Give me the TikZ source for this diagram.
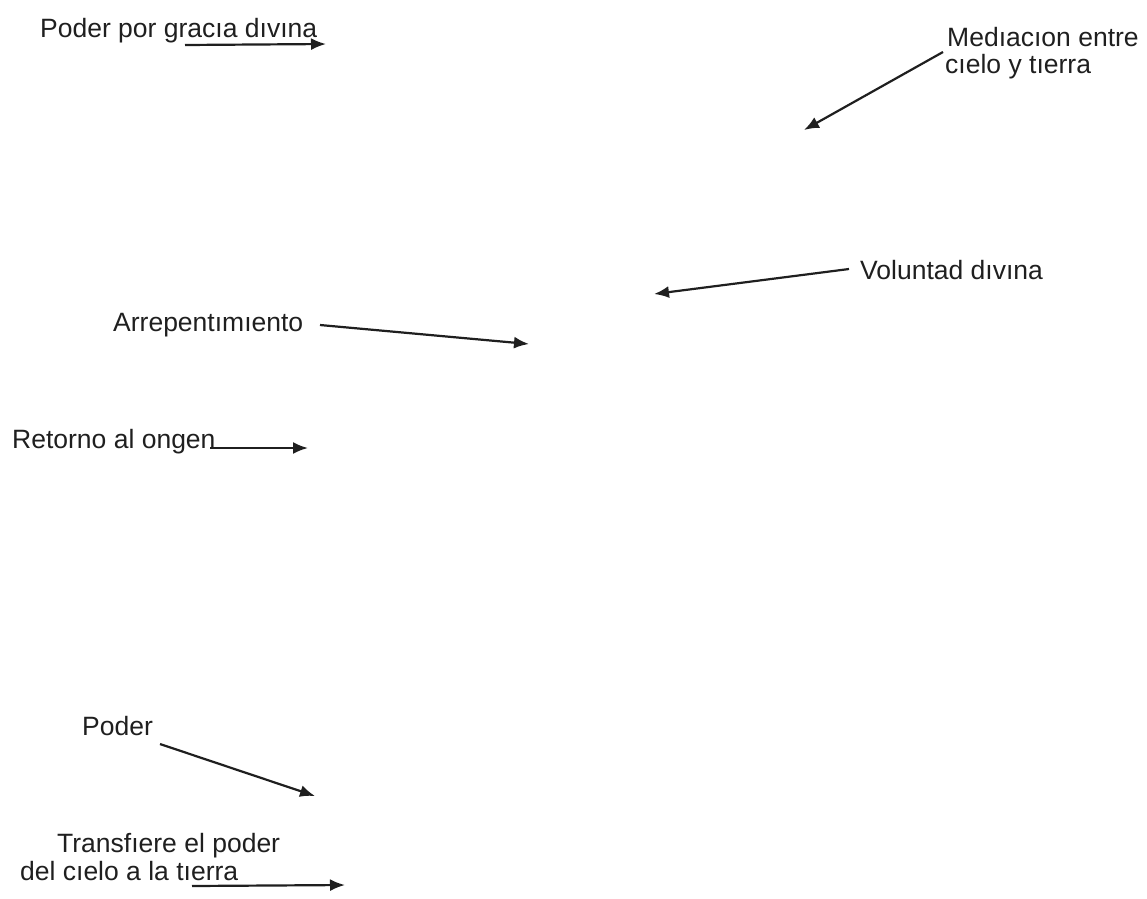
\documentclass[tikz,border=0pt]{standalone}
\usepackage{fontspec}
\setmainfont{Liberation Sans}
\usetikzlibrary{arrows.meta}
\begin{document}
\begin{tikzpicture}[x=1pt,y=-1pt,
  lbl/.style={anchor=base west,inner sep=0pt,font=\fontsize{26.5}{30}\selectfont,text=black!88},
  arr/.style={-{Latex[length=15pt,width=12pt]},line width=2.2pt,black!88}]
\useasboundingbox (0,0) rectangle (1147,898);
% labels
\node[lbl] (gracia) at (40,37) {Poder por gracıa dıvına};
\node[lbl] (med1) at (947,46) {Medıacıon entre};
\node[lbl] (med2) at (945,73) {cıelo y tıerra};
\node[lbl] (vol) at (860,279) {Voluntad dıvına};
\node[lbl] (arr) at (113,331) {Arrepentımıento};
\node[lbl] (ret) at (12,448) {Retorno al ongen};
\node[lbl] (pod) at (82,735) {Poder};
\node[lbl] (tr1) at (57,852) {Transfıere el poder};
\node[lbl] (tr2) at (20,880) {del cıelo a la tıerra};
% connector ends
\coordinate (a1) at (185,45); \coordinate (b1) at (326,44);
\coordinate (a2) at (943,52); \coordinate (b2) at (804,130);
\coordinate (a3) at (849,269); \coordinate (b3) at (654,294);
\coordinate (a4) at (320,325); \coordinate (b4) at (529,344);
\coordinate (a5) at (210,448); \coordinate (b5) at (308,448);
\coordinate (a6) at (160,744); \coordinate (b6) at (315,796);
\coordinate (a7) at (192,886); \coordinate (b7) at (345,885);
\draw[arr] (a1) -- (b1);
\draw[arr] (a2) -- (b2);
\draw[arr] (a3) -- (b3);
\draw[arr] (a4) -- (b4);
\draw[arr] (a5) -- (b5);
\draw[arr] (a6) -- (b6);
\draw[arr] (a7) -- (b7);
\end{tikzpicture}
\end{document}
